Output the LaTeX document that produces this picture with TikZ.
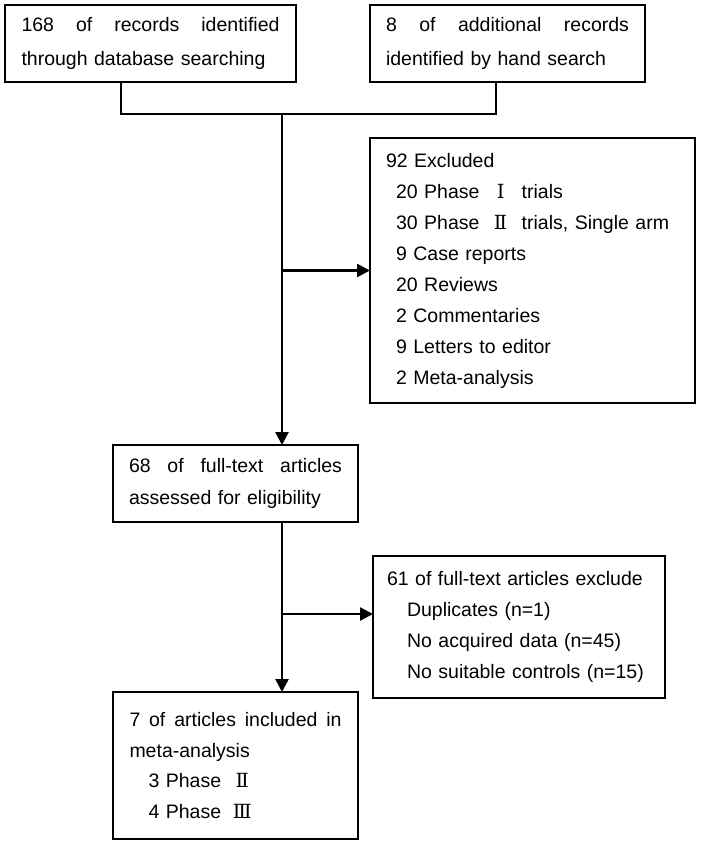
\documentclass[tikz,border=0pt]{standalone}
\usepackage{fontspec}
\setmainfont{Liberation Sans}
\newfontfamily\romfont{DejaVu Serif}
\usetikzlibrary{arrows.meta,calc}
\newcommand\jl[2]{\hbox to #1{#2}}
\newcommand\rmn[1]{\makebox[1.5em][c]{\romfont #1}}
\begin{document}
\begin{tikzpicture}[x=1pt,y=-1pt,
  box/.style={draw, line width=1.8pt, outer sep=0pt, inner ysep=0pt, anchor=north west, align=left},
  conn/.style={line width=2.6pt},
  arr/.style={conn, -{Triangle[length=13pt,width=13pt]}},
  ]
\fill[white] (0,0) rectangle (701,846);
\useasboundingbox (0,0) rectangle (701,846);

\node[box, text width=258pt, inner xsep=16.5pt, minimum height=77pt, font=\fontsize{19.5}{34}\selectfont] (b1) at (5,5)
  {\jl{258pt}{168\hfill of\hfill records\hfill identified}\\through database searching};
\node[box, text width=243pt, inner xsep=16pt, minimum height=77pt, font=\fontsize{19.5}{34}\selectfont] (b2) at (370,5)
  {\jl{243pt}{8\hfill of\hfill additional\hfill records}\\identified by hand search};
\node[box, text width=293pt, inner xsep=16pt, minimum height=265pt, font=\fontsize{19.5}{31}\selectfont] (b3) at (370,138)
  {92 Excluded\\
   \hspace*{10pt}20 Phase \rmn{Ⅰ} trials\\
   \hspace*{10pt}30 Phase \rmn{Ⅱ} trials, Single arm\\
   \hspace*{10pt}9 Case reports\\
   \hspace*{10pt}20 Reviews\\
   \hspace*{10pt}2 Commentaries\\
   \hspace*{10pt}9 Letters to editor\\
   \hspace*{10pt}2 Meta-analysis};
\node[box, text width=213pt, inner xsep=16pt, minimum height=77pt, font=\fontsize{19.5}{32}\selectfont] (b4) at (113,445)
  {\jl{213pt}{68\hfill of\hfill full-text\hfill articles}\\assessed for eligibility};
\node[box, text width=264pt, inner xsep=14pt, minimum height=142pt, font=\fontsize{19.5}{31}\selectfont] (b5) at (373,556)
  {61 of full-text articles exclude\\
   \hspace*{20pt}Duplicates (n=1)\\
   \hspace*{20pt}No acquired data (n=45)\\
   \hspace*{20pt}No suitable controls (n=15)};
\node[box, text width=212pt, inner xsep=16.5pt, minimum height=147pt, font=\fontsize{19.5}{30.5}\selectfont] (b6) at (113,692)
  {\jl{212pt}{7\hfill of\hfill articles\hfill included\hfill in}\\meta-analysis\\
   \hspace*{19pt}3 Phase \rmn{Ⅱ}\\
   \hspace*{19pt}4 Phase \rmn{Ⅲ}};

\coordinate (j1) at (121,114);
\coordinate (j2) at (496,114);
\coordinate (jm) at (282,114);
\coordinate (k2) at (282,614);

\draw[conn] (b1.south -| j1) -- (j1) -- (j2) -- (b2.south -| j2);
\draw[arr] (jm) -- (b4.north -| jm);
\draw[arr] (b3.west -| jm) -- (b3.west);
\draw[arr] (b4.south -| jm) -- (b6.north -| jm);
\draw[arr] (k2) -- (k2 -| b5.west);
\end{tikzpicture}
\end{document}
